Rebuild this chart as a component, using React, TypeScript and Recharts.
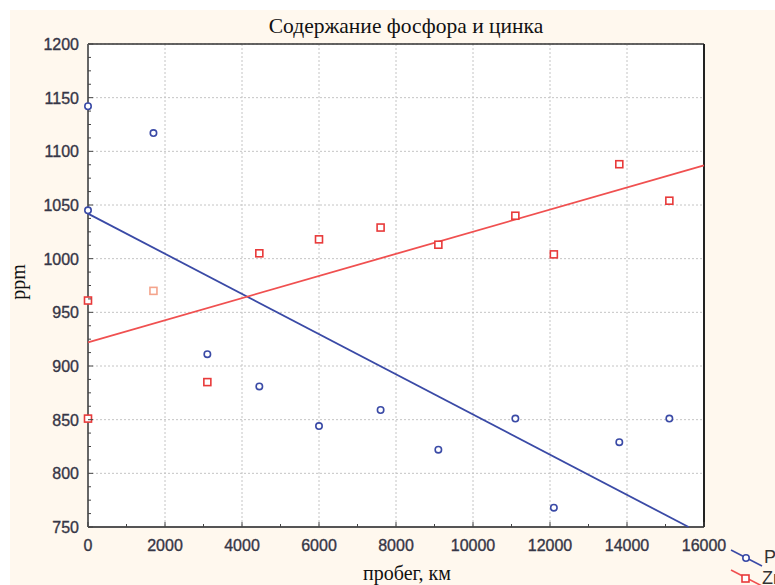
import React from "react";
import { ScatterChart, Scatter, XAxis, YAxis, CartesianGrid, Cell } from "recharts";

// Mileage (km) of each sample
const mileage = [0, 0, 1700, 3100, 4450, 6000, 7600, 9100, 11100, 12100, 13800, 15100];
// Phosphorus content, ppm
const phosphorus = [1142, 1045, 1117, 911, 881, 844, 859, 822, 851, 768, 829, 851];
// Zinc content, ppm
const zinc = [961, 851, 970, 885, 1005, 1018, 1029, 1013, 1040, 1004, 1088, 1054];

// Linear trend lines (endpoints in data units)
const phosphorusTrendKm = [0, 15600];
const phosphorusTrendPpm = [1042, 750];
const zincTrendKm = [0, 16000];
const zincTrendPpm = [922, 1087];

// Axis ticks
const xMajorTicks = [0, 2000, 4000, 6000, 8000, 10000, 12000, 14000, 16000];
const yMajorTicks = [750, 800, 850, 900, 950, 1000, 1050, 1100, 1150, 1200];
const xMinorStep = 1000;
const yMinorStep = 12.5;

const withMinor = (major: number[], step: number) => {
  const out: number[] = [];
  for (let i = 0; i < major.length - 1; i++) {
    for (let v = major[i]; v < major[i + 1] - 1e-9; v += step) out.push(v);
  }
  out.push(major[major.length - 1]);
  return out;
};
const xAllTicks = withMinor(xMajorTicks, xMinorStep);
const yAllTicks = withMinor(yMajorTicks, yMinorStep);

const toPoints = (xs: number[], ys: number[]) => xs.map((km, i) => ({ km, ppm: ys[i] }));
const pData = toPoints(mileage, phosphorus);
const znData = toPoints(mileage, zinc);
const pTrend = toPoints(phosphorusTrendKm, phosphorusTrendPpm);
const znTrend = toPoints(zincTrendKm, zincTrendPpm);

const BLUE = "#3a4aa6";
const RED = "#e83a3a";
const RED_LIGHT = "#f4a48c";
const TICK_COLOR = "#444";
const TICK_TEXT = "#363646";
const LABEL_FONT = "Arial, 'Liberation Sans', sans-serif";
const SERIF = "'Times New Roman', 'Liberation Serif', serif";

const isMajor = (v: number, list: number[]) => list.some((m) => Math.abs(m - v) < 1e-6);

const tickTextProps = {
  fontFamily: LABEL_FONT,
  fontSize: 16,
  fill: TICK_TEXT,
  stroke: TICK_TEXT,
  strokeWidth: 0.35,
};

const BottomTick = (props: any) => {
  const { x, y, payload } = props;
  const major = isMajor(payload.value, xMajorTicks);
  return (
    <g>
      <line x1={x} x2={x} y1={y} y2={y - (major ? 5 : 3)} stroke={TICK_COLOR} strokeWidth={1} />
      {major && (
        <text x={x} y={y + 24} textAnchor="middle" {...tickTextProps}>
          {payload.value}
        </text>
      )}
    </g>
  );
};

const TopTick = (props: any) => {
  const { x, y, payload } = props;
  const major = isMajor(payload.value, xMajorTicks);
  return <line x1={x} x2={x} y1={y} y2={y + (major ? 5 : 3)} stroke={TICK_COLOR} strokeWidth={1} />;
};

const LeftTick = (props: any) => {
  const { x, y, payload } = props;
  const major = isMajor(payload.value, yMajorTicks);
  return (
    <g>
      <line x1={x} x2={x + (major ? 5 : 3)} y1={y} y2={y} stroke={TICK_COLOR} strokeWidth={1} />
      {major && (
        <text x={x - 9} y={y + 6} textAnchor="end" {...tickTextProps}>
          {payload.value}
        </text>
      )}
    </g>
  );
};

const RightTick = (props: any) => {
  const { x, y, payload } = props;
  const major = isMajor(payload.value, yMajorTicks);
  return <line x1={x} x2={x - (major ? 5 : 3)} y1={y} y2={y} stroke={TICK_COLOR} strokeWidth={1} />;
};

const CircleMark = (props: any) => {
  const { cx, cy } = props;
  return <circle cx={cx} cy={cy} r={3.2} fill="#fff" stroke={BLUE} strokeWidth={1.6} />;
};

const SquareMark = (props: any) => {
  const { cx, cy, fill } = props;
  return <rect x={cx - 3.5} y={cy - 3.5} width={7} height={7} fill="#fff" stroke={fill || RED} strokeWidth={1.6} />;
};

const NoMark = () => <g />;

export default function App() {
  return (
    <div style={{ position: "absolute", left: 0, top: 0, width: 775, height: 585, background: "#fff", overflow: "hidden" }}>
      <div style={{ position: "absolute", left: 10, top: 10, width: 765, height: 575, background: "#fff8ee" }} />
      <div style={{ position: "absolute", left: 0, top: 0 }}>
        <ScatterChart width={775} height={585} margin={{ top: 34, right: 61, bottom: 28, left: 58 }}>
          <CartesianGrid
            xAxisId="bottom"
            yAxisId="left"
            stroke="#c4c4c4"
            strokeDasharray="2 2"
            verticalValues={xMajorTicks}
            horizontalValues={yMajorTicks}
            fill="#fff"
          />
          <XAxis
            xAxisId="bottom"
            dataKey="km"
            type="number"
            domain={[0, 16000]}
            ticks={xAllTicks}
            interval={0}
            height={30}
            tickSize={0}
            tickMargin={0}
            tick={<BottomTick />}
            tickLine={false}
            axisLine={{ stroke: "#555", strokeWidth: 2 }}
          />
          <XAxis
            xAxisId="top"
            orientation="top"
            type="number"
            domain={[0, 16000]}
            ticks={xAllTicks}
            interval={0}
            height={10}
            tickSize={0}
            tickMargin={0}
            tick={<TopTick />}
            tickLine={false}
            axisLine={{ stroke: "#333", strokeWidth: 1.5 }}
          />
          <YAxis
            yAxisId="left"
            dataKey="ppm"
            type="number"
            domain={[750, 1200]}
            ticks={yAllTicks}
            interval={0}
            width={30}
            tickSize={0}
            tickMargin={0}
            tick={<LeftTick />}
            tickLine={false}
            axisLine={{ stroke: "#666", strokeWidth: 2 }}
          />
          <YAxis
            yAxisId="right"
            orientation="right"
            type="number"
            domain={[750, 1200]}
            ticks={yAllTicks}
            interval={0}
            width={10}
            tickSize={0}
            tickMargin={0}
            tick={<RightTick />}
            tickLine={false}
            axisLine={{ stroke: "#222", strokeWidth: 2 }}
          />
          <Scatter
            name="P-trend"
            xAxisId="bottom"
            yAxisId="left"
            data={pTrend}
            line={{ stroke: BLUE, strokeWidth: 1.8 }}
            shape={<NoMark />}
            legendType="none"
            isAnimationActive={false}
          />
          <Scatter
            name="Zn-trend"
            xAxisId="bottom"
            yAxisId="left"
            data={znTrend}
            line={{ stroke: "#f05050", strokeWidth: 1.8 }}
            shape={<NoMark />}
            legendType="none"
            isAnimationActive={false}
          />
          <Scatter
            name="P"
            xAxisId="bottom"
            yAxisId="left"
            data={pData}
            shape={<CircleMark />}
            isAnimationActive={false}
          />
          <Scatter
            name="Zn"
            xAxisId="bottom"
            yAxisId="left"
            data={znData}
            fill={RED}
            shape={<SquareMark />}
            isAnimationActive={false}
          >
            {znData.map((_, i) => (
              <Cell key={i} fill={i === 2 ? RED_LIGHT : RED} />
            ))}
          </Scatter>
        </ScatterChart>
      </div>
      <svg width={775} height={585} style={{ position: "absolute", left: 0, top: 0, pointerEvents: "none" }}>
        <text x={406} y={33} textAnchor="middle" fontFamily={SERIF} fontSize={21.5} fill="#111">
          Содержание фосфора и цинка
        </text>
        <text x={407} y={580} textAnchor="middle" fontFamily={SERIF} fontSize={20} fill="#111">
          пробег, км
        </text>
        <text
          x={0}
          y={0}
          transform="translate(25 282) rotate(-90)"
          textAnchor="middle"
          fontFamily={SERIF}
          fontSize={20}
          fill="#111"
        >
          ppm
        </text>
        <g>
          <line x1={731} y1={550} x2={762} y2={566} stroke={BLUE} strokeWidth={1.6} />
          <circle cx={746} cy={558} r={3.2} fill="#fff" stroke={BLUE} strokeWidth={1.6} />
          <text x={764} y={563} fontFamily={LABEL_FONT} fontSize={18} fill="#333">
            P
          </text>
          <line x1={731} y1={570} x2={762} y2={586} stroke="#f05050" strokeWidth={1.6} />
          <rect x={742} y={575} width={7} height={7} fill="#fff" stroke={RED} strokeWidth={1.6} />
          <text x={762} y={584} fontFamily={LABEL_FONT} fontSize={18} fill="#333">
            Zn
          </text>
        </g>
      </svg>
    </div>
  );
}
